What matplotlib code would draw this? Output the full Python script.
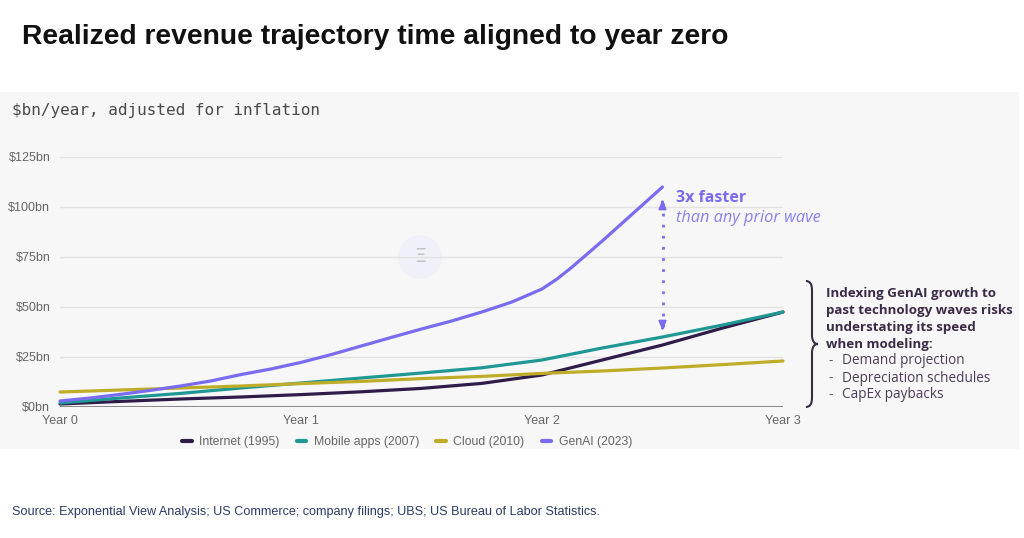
import matplotlib
matplotlib.use("Agg")
import matplotlib.pyplot as plt
from matplotlib.path import Path
from matplotlib.patches import PathPatch, Rectangle, Circle

# values ($bn/year vs years since year zero)
years_q = [0, 0.25, 0.5, 0.75, 1, 1.25, 1.5, 1.75, 2, 2.25, 2.5, 2.75, 3]
internet = [1.5, 2.8, 4, 5, 6.2, 7.6, 9.3, 11.8, 16, 23.5, 31, 39.5, 47.5]
mobile = [2, 4.5, 6.8, 9.5, 12, 14.5, 17, 19.6, 23.5, 29.5, 35, 41, 47.5]
cloud = [7.5, 8.5, 9.5, 10.5, 11.7, 12.8, 14.2, 15.3, 16.8, 18, 19.5, 21.2, 23]
genai_years = [0, 0.125, 0.25, 0.375, 0.5, 0.625, 0.75, 0.875, 1, 1.125, 1.25, 1.375, 1.5,
               1.625, 1.75, 1.875, 2, 2.0625, 2.125, 2.25, 2.375, 2.5]
genai = [3, 4.5, 6.3, 8.3, 10.5, 13, 16.2, 19, 22.3, 26.2, 30.5, 34.8, 39,
         43, 47.5, 52.5, 59, 64, 70, 83, 96.5, 110]

series_names = ["Internet (1995)", "Mobile apps (2007)", "Cloud (2010)", "GenAI (2023)"]
colors = ["#2f1c48", "#1f9894", "#bfad2a", "#7a6cf0"]

y_ticks = [0, 25, 50, 75, 100, 125]
y_labels = ["$0bn", "$25bn", "$50bn", "$75bn", "$100bn", "$125bn"]
x_ticks = [0, 1, 2, 3]
x_labels = ["Year 0", "Year 1", "Year 2", "Year 3"]

gap_x = 2.5
gap_low, gap_high = 37, 105

W, H = 1024, 538
fig = plt.figure(figsize=(W / 100, H / 100), dpi=100)
fig.patch.set_facecolor("white")

# overlay in pixel coords for the free text / shapes
ov = fig.add_axes([0, 0, 1, 1])
ov.set_xlim(0, W)
ov.set_ylim(H, 0)
ov.axis("off")
ov.add_patch(Rectangle((0, 92), 1019, 357, facecolor="#f7f7f7", edgecolor="none", zorder=0))

ov.text(22, 37, "Realized revenue trajectory time aligned to year zero", fontsize=20.3,
        fontweight="bold", family="Liberation Sans", color="#111111", va="center")
ov.text(12, 111, "$bn/year, adjusted for inflation", fontsize=11.5, family="DejaVu Sans Mono",
        color="#4a4a4a", va="center")
ov.text(12, 512, "Source: Exponential View Analysis; US Commerce; company filings; UBS; US Bureau of Labor Statistics.",
        fontsize=9.1, family="Liberation Sans", color="#2b3a67", va="center")

# faint watermark
ov.add_patch(Circle((420, 257), 22, facecolor="#f0f0f8", edgecolor="none", zorder=1))
ov.text(420, 257, "Ξ", fontsize=14, color="#c4c4c4", ha="center", va="center", zorder=2)

# brace
verts = [(806, 281), (812, 281), (812, 290), (812, 335), (812, 344), (818, 344),
         (812, 344), (812, 353), (812, 398), (812, 407), (806, 407)]
codes = [Path.MOVETO, Path.CURVE3, Path.CURVE3, Path.LINETO, Path.CURVE3, Path.CURVE3,
         Path.CURVE3, Path.CURVE3, Path.LINETO, Path.CURVE3, Path.CURVE3]
ov.add_patch(PathPatch(Path(verts, codes), facecolor="none", edgecolor="#3a2d45", lw=1.5))

note_lines = ["Indexing GenAI growth to", "past technology waves risks",
              "understating its speed", "when modeling:"]
for i, line in enumerate(note_lines):
    ov.text(826, 294 + i * 16.8, line, fontsize=9.6, fontweight="bold", family="Open Sans",
            color="#3b2b48", va="center")
bullets = ["Demand projection", "Depreciation schedules", "CapEx paybacks"]
for i, b in enumerate(bullets):
    yy = 361 + i * 17
    ov.text(828, yy, "-", fontsize=9.6, family="Open Sans", color="#4a3d55", va="center")
    ov.text(842, yy, b, fontsize=9.8, family="Open Sans", color="#4a3d55", va="center")

# main chart
ax = fig.add_axes([60 / W, 131 / H, 723 / W, 250 / H])
ax.set_facecolor("none")
ax.set_xlim(0, 3)
ax.set_ylim(0, 125)
for s in ax.spines.values():
    s.set_visible(False)
for t in y_ticks[1:]:
    ax.axhline(t, color="#e2e2e2", lw=1, zorder=1)
ax.axhline(0, color="#8a8a8a", lw=2.2, zorder=5)

ax.set_yticks(y_ticks)
ax.set_yticklabels(y_labels)
ax.set_xticks(x_ticks)
ax.set_xticklabels(x_labels)
ax.tick_params(length=0, labelsize=9, labelcolor="#666666")
ax.tick_params(axis="y", pad=7)
ax.tick_params(axis="x", pad=6)
for lab in ax.get_xticklabels() + ax.get_yticklabels():
    lab.set_family("Liberation Sans")

lines = []
for name, vals, c in zip(series_names[:3], [internet, mobile, cloud], colors[:3]):
    l, = ax.plot(years_q, vals, color=c, lw=2.3, label=name, clip_on=False, zorder=3,
                 solid_capstyle="round", solid_joinstyle="round")
    lines.append(l)
l, = ax.plot(genai_years, genai, color=colors[3], lw=2.3, label=series_names[3], clip_on=False,
             zorder=3, solid_capstyle="round", solid_joinstyle="round")
lines.append(l)

# dotted gap arrow
ax.plot([gap_x, gap_x], [gap_low + 3, gap_high - 3], color=colors[3], lw=2, ls=(0, (1, 3)), zorder=4)
ax.annotate("", xy=(gap_x, gap_high), xytext=(gap_x, gap_high - 4),
            arrowprops=dict(arrowstyle="-|>,head_length=0.5,head_width=0.22", color=colors[3], lw=1.5))
ax.annotate("", xy=(gap_x, gap_low), xytext=(gap_x, gap_low + 4),
            arrowprops=dict(arrowstyle="-|>,head_length=0.5,head_width=0.22", color=colors[3], lw=1.5))

ov.text(676, 198, "3x faster", fontsize=11.5, fontweight="bold", family="Open Sans", color="#7a6cf0", va="center")
ov.text(676, 218, "than any prior wave", fontsize=11.8, style="italic", family="Open Sans", color="#8a7ff0", va="center")

leg = fig.legend(handles=lines, loc="center", bbox_to_anchor=(407 / W, 1 - 442 / H), ncol=4,
                 frameon=False, handlelength=0.8, handletextpad=0.6, columnspacing=1.4,
                 prop={"family": "Liberation Sans", "size": 8.8})
for t in leg.get_texts():
    t.set_color("#666666")
for h in leg.legend_handles:
    h.set_linewidth(3)

fig.savefig("out.png", dpi=100)
